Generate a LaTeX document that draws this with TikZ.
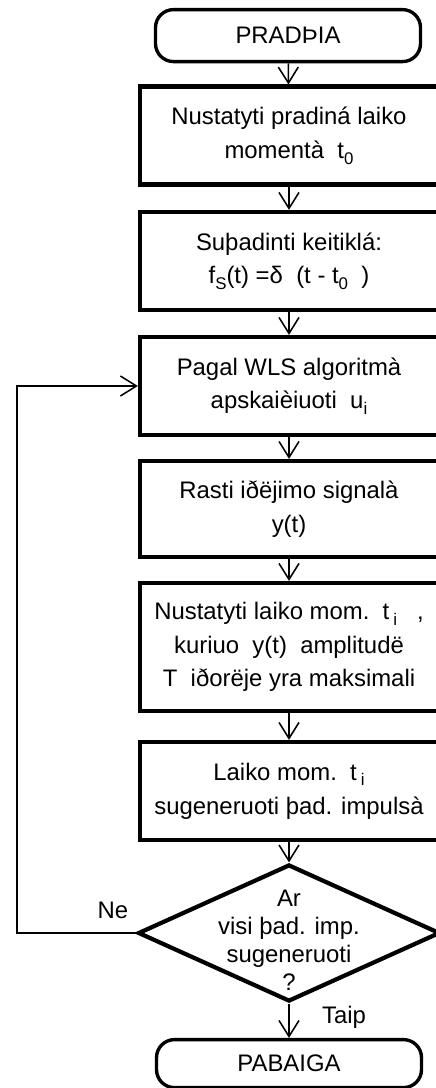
\documentclass[tikz,border=0pt]{standalone}
\usepackage{fontspec}
\setmainfont{Liberation Sans}
\usetikzlibrary{shapes.geometric, arrows.meta}
\newcommand{\lowidx}[1]{\raisebox{-0.45ex}{\fontsize{12}{12}\selectfont #1}}

\begin{document}
\begin{tikzpicture}[
        every node/.style = {font = \fontsize{17}{24}\selectfont, align = center},
        terminal/.style = {draw, line width = 2.4pt, rounded corners = 0.45cm, minimum width = 6.625cm, minimum height = 1.3cm},
        procbox/.style = {draw, line width = 3pt, minimum width = 7.45cm, minimum height = 2.45cm},
        decision/.style = {draw, diamond, line width = 3pt, minimum width = 7.55cm, minimum height = 3.425cm, inner sep = 0pt},
        flow/.style = {-{Straight Barb[length = 0.4cm, width = 0.5cm]}, line width = 1.1pt}]
    \useasboundingbox (0, 0) rectangle (10.875, -27.2);
    \node[terminal] (start) at (7.2, -0.89) {PRADÞIA};
    \node[procbox] (setstart) at (7.225, -3.39) {Nustatyti pradiná laiko\\momentà~~t\lowidx{0}};
    \node[procbox] (excite) at (7.225, -6.525) {Suþadinti keitiklá:\\f\lowidx{S}(t) =δ~~(t - t\lowidx{0}~~)};
    \node[procbox] (calcwls) at (7.225, -9.65) {Pagal WLS algoritmà\\apskaièiuoti~~u\lowidx{i}};
    \node[procbox, minimum height = 2.4cm] (output) at (7.225, -12.725) {Rasti iðëjimo signalà\\y(t)};
    \node[procbox, minimum height = 3.2cm] (findmax) at (7.225, -16.175) {Nustatyti laiko mom.~~t\,\lowidx{i}~~~,\\kuriuo~~y(t)~~amplitudë\\T~~iðorëje yra maksimali};
    \node[procbox] (genpulse) at (7.225, -19.775) {Laiko mom.~~t\,\lowidx{i}\\sugeneruoti þad. impulsà};
    \node[decision] (check) at (7.225, -23.325) {};
    \node[font = \fontsize{17}{20}\selectfont] (checktext) at (7.225, -23.5) {Ar\\visi þad. imp.\\sugeneruoti\\?};
    \node[terminal, minimum height = 1.2cm] (finish) at (7.225, -26.59) {PABAIGA};
    \coordinate (loopcorner) at (0.425, -23.325);
    % connectors
    \draw[flow] (start) -- (setstart);
    \draw[flow] (setstart) -- (excite);
    \draw[flow] (excite) -- (calcwls);
    \draw[flow] (calcwls) -- (output);
    \draw[flow] (output) -- (findmax);
    \draw[flow] (findmax) -- (genpulse);
    \draw[flow] (genpulse) -- (check);
    \draw[flow] (check) -- (finish);
    \draw[flow] (check.west) -- (loopcorner) |- (calcwls.west);
    \node (no) at (2.825, -22.75) {Ne};
    \node (yes) at (8.6, -25.425) {Taip};
\end{tikzpicture}
\end{document}
